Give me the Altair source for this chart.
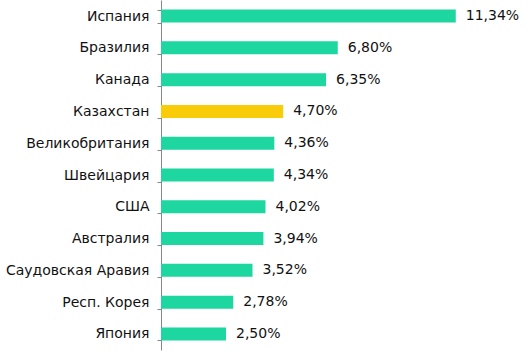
import altair as alt
import pandas as pd

countries = ["Испания", "Бразилия", "Канада", "Казахстан", "Великобритания",
             "Швейцария", "США", "Австралия", "Саудовская Аравия", "Респ. Корея", "Япония"]
values = [11.34, 6.80, 6.35, 4.70, 4.36, 4.34, 4.02, 3.94, 3.52, 2.78, 2.50]
highlight = ["Казахстан"]

df = pd.DataFrame({"country": countries, "value": values})
df["hl"] = df["country"].isin(highlight)

FONT = "DejaVu Sans"

base = alt.Chart(df).encode(
    y=alt.Y("country:N", sort=countries,
            scale=alt.Scale(paddingInner=0.59, paddingOuter=0.3),
            axis=alt.Axis(title=None, tickBand="extent", tickSize=4, labelPadding=8,
                          domainColor="#868686", tickColor="#868686",
                          labelFont=FONT, labelFontSize=14, labelColor="#111111")),
    x=alt.X("value:Q", scale=alt.Scale(domain=[0, 13.85], nice=False),
            axis=None),
)

bars = base.mark_bar(size=13).encode(
    color=alt.condition("datum.hl", alt.value("#f9cc0a"), alt.value("#1ed6a0"))
)

labels = base.mark_text(align="left", dx=10, font=FONT, fontSize=14, color="#111111").transform_calculate(
    lbl="replace(format(datum.value, '.2f'), '.', ',') + '%'"
).encode(text="lbl:N")

chart = (bars + labels).properties(
    width=360, height=350,
    autosize=alt.AutoSizeParams(type="none"),
    padding={"left": 161, "top": 0, "right": 10, "bottom": 4},
).configure_view(stroke=None)

chart.save("out.html", embed_options={"renderer": "svg", "actions": False})
